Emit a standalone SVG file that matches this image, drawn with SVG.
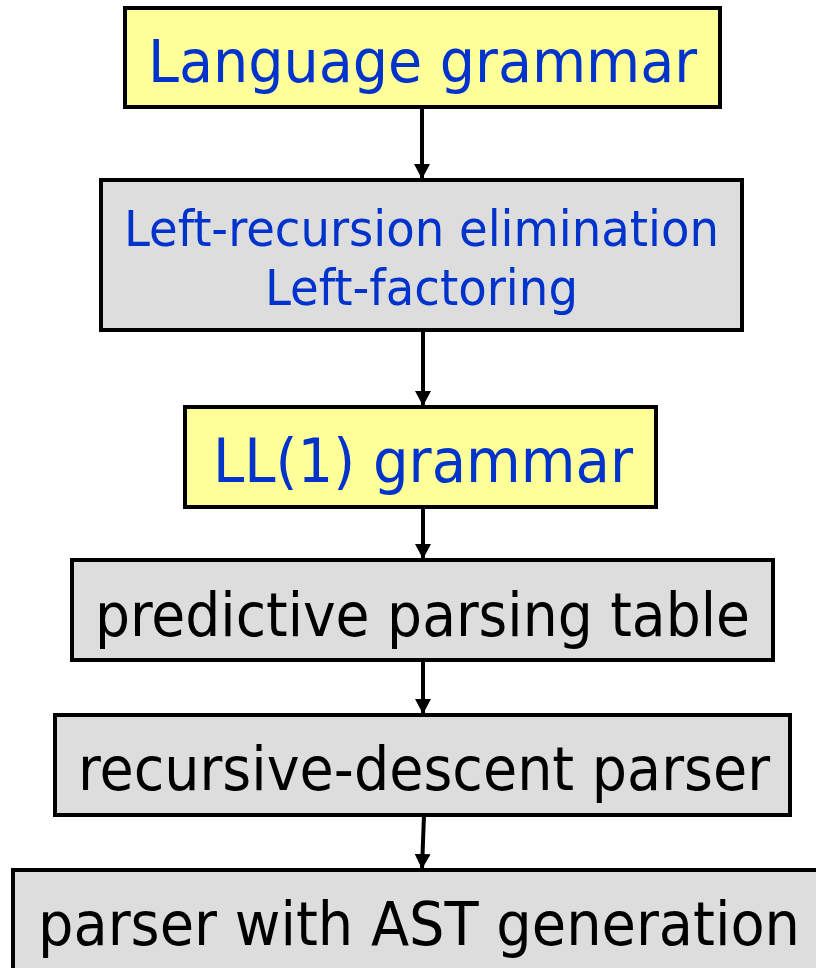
<svg xmlns="http://www.w3.org/2000/svg" width="816" height="968" viewBox="0 0 816 968">
  <style>
    .box { stroke: #000; stroke-width: 4; }
    .yellow { fill: #FFFF99; }
    .gray { fill: #DDDDDD; }
    .lbl { font-family: "DejaVu Sans Condensed", "DejaVu Sans", "Liberation Sans", sans-serif; text-anchor: middle; }
    .blue { fill: #0033CC; }
    .black { fill: #000; }
    .edge { stroke: #000; stroke-width: 4; fill: none; marker-end: url(#arrow); }
  </style>
  <defs>
    <marker id="arrow" viewBox="0 0 15 16" refX="15" refY="8" markerWidth="15" markerHeight="16" markerUnits="userSpaceOnUse" orient="auto">
      <path d="M0,0 L15,8 L0,16 z" fill="#000"/>
    </marker>
  </defs>
  <rect width="816" height="968" fill="#fff"/>

  <g id="connectors">
    <line class="edge" x1="422" y1="107" x2="422" y2="179"/>
    <line class="edge" x1="423" y1="330" x2="423" y2="406"/>
    <line class="edge" x1="423" y1="507" x2="423" y2="559"/>
    <line class="edge" x1="423" y1="660" x2="423" y2="714"/>
    <line class="edge" x1="424" y1="815" x2="422" y2="869"/>
  </g>

  <g id="language-grammar">
    <rect class="box yellow" x="125" y="8" width="595" height="99"/>
    <text class="lbl blue" x="422.5" y="82" font-size="58" textLength="549" lengthAdjust="spacingAndGlyphs">Language grammar</text>
  </g>

  <g id="transformations">
    <rect class="box gray" x="101" y="180" width="641" height="150"/>
    <text class="lbl blue" x="421.5" y="246" font-size="50" textLength="595" lengthAdjust="spacingAndGlyphs">Left-recursion elimination</text>
    <text class="lbl blue" x="421.5" y="305" font-size="50" textLength="313" lengthAdjust="spacingAndGlyphs">Left-factoring</text>
  </g>

  <g id="ll1-grammar">
    <rect class="box yellow" x="185" y="407" width="471" height="100"/>
    <text class="lbl blue" x="423" y="482" font-size="60" textLength="420" lengthAdjust="spacingAndGlyphs">LL(1) grammar</text>
  </g>

  <g id="parsing-table">
    <rect class="box gray" x="72" y="560" width="701" height="100"/>
    <text class="lbl black" x="422.5" y="636" font-size="60" textLength="655" lengthAdjust="spacingAndGlyphs">predictive parsing table</text>
  </g>

  <g id="rd-parser">
    <rect class="box gray" x="55" y="715" width="735" height="100"/>
    <text class="lbl black" x="424" y="790" font-size="60" textLength="692" lengthAdjust="spacingAndGlyphs">recursive-descent parser</text>
  </g>

  <g id="ast-parser">
    <rect class="box gray" x="13" y="870" width="810" height="110"/>
    <text class="lbl black" x="419" y="945" font-size="60" textLength="762" lengthAdjust="spacingAndGlyphs">parser with AST generation</text>
  </g>
</svg>
